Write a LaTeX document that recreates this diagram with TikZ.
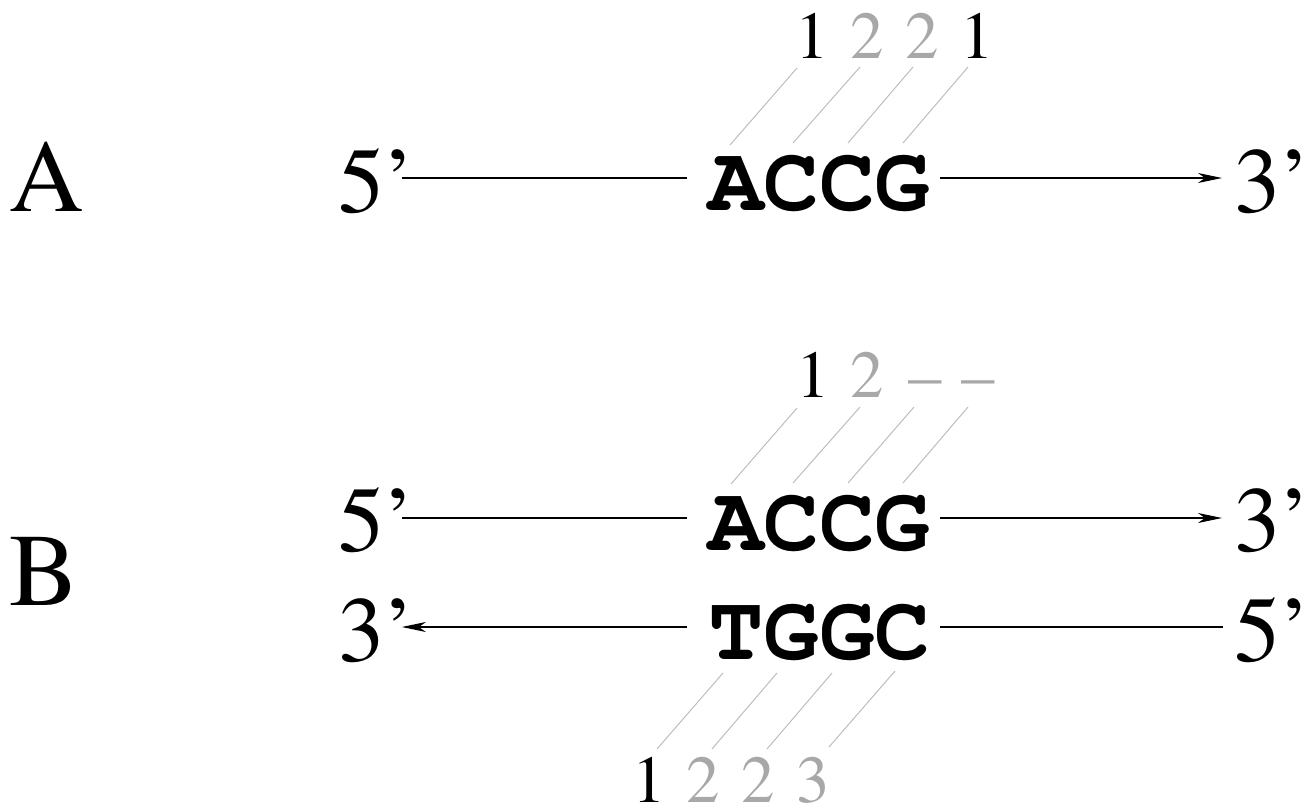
\documentclass[tikz,border=0pt]{standalone}
\usepackage[T1]{fontenc}
\renewcommand{\rmdefault}{ptm}
\renewcommand{\ttdefault}{pcr}
\usetikzlibrary{arrows.meta}
\definecolor{digitgray}{gray}{0.66}
\definecolor{tickgray}{gray}{0.74}
\begin{document}
\begin{tikzpicture}[x=1pt,y=-1pt,
  txt/.style={inner sep=0pt, anchor=base west},
  panel/.style={txt, font=\fontsize{103}{103}\selectfont\rmfamily},
  endlab/.style={txt, font=\fontsize{93}{93}\selectfont\rmfamily},
  seq/.style={txt, font=\fontsize{92.5}{92.5}\selectfont\ttfamily\bfseries},
  dig/.style={inner sep=0pt, anchor=base, font=\fontsize{67}{67}\selectfont\rmfamily},
  dimdig/.style={dig, text=digitgray},
  strand/.style={line width=1.3pt},
  arr/.style={strand, -{Stealth[length=24pt,width=10pt,inset=7pt]}},
  tick/.style={tickgray, line width=1pt}]
\useasboundingbox (0,0) rectangle (1302,803);

% panel labels
\node[panel] (PA) at (9,211) {A};
\node[panel] (PB) at (9,605) {B};

% row A
\coordinate (LA) at (0,178);
\node[endlab] (A5) at (338,212) {5'};
\node[seq] (Aseq) at (708,210) {ACCG};
\node[endlab] (A3) at (1234,212) {3'};
\draw[strand, shorten <=-14pt, shorten >=21pt] (A5.east |- LA) -- (Aseq.west |- LA);
\draw[arr, shorten <=10pt, shorten >=12pt] (Aseq.east |- LA) -- (A3.west |- LA);

\node[dig] (a1) at (812,58) {1};
\node[dimdig] (a2) at (867,58) {2};
\node[dimdig] (a3) at (922,58) {2};
\node[dig] (a4) at (977,58) {1};
\draw[tick] (730,145) -- (797,68);
\draw[tick] (793,143) -- (860,67);
\draw[tick] (848,143) -- (913,67);
\draw[tick] (903,143) -- (968,67);

% row B, upper strand
\coordinate (LB1) at (0,518);
\node[endlab] (B5a) at (338,551) {5'};
\node[seq] (Bseq1) at (708,550) {ACCG};
\node[endlab] (B3a) at (1234,551) {3'};
\draw[strand, shorten <=-14pt, shorten >=21pt] (B5a.east |- LB1) -- (Bseq1.west |- LB1);
\draw[arr, shorten <=10pt, shorten >=12pt] (Bseq1.east |- LB1) -- (B3a.west |- LB1);

\node[dig] (b1) at (813,397) {1};
\node[dimdig] (b2) at (867,397) {2};
\node[dimdig] (b3) at (925,397) {--};
\node[dimdig] (b4) at (978,397) {--};
\draw[tick] (731,484) -- (797,408);
\draw[tick] (793,483) -- (860,407);
\draw[tick] (848,483) -- (914,407);
\draw[tick] (903,483) -- (968,407);

% row B, lower strand
\coordinate (LB2) at (0,627);
\node[endlab] (B3b) at (338,661) {3'};
\node[seq] (Bseq2) at (708,659) {TGGC};
\node[endlab] (B5b) at (1234,661) {5'};
\draw[arr, shorten <=21pt, shorten >=-14pt] (Bseq2.west |- LB2) -- (B3b.east |- LB2);
\draw[strand, shorten <=10pt, shorten >=11pt] (Bseq2.east |- LB2) -- (B5b.west |- LB2);

\node[dig] (c1) at (649,802) {1};
\node[dimdig] (c2) at (703,802) {2};
\node[dimdig] (c3) at (758,802) {2};
\node[dimdig] (c4) at (813,802) {3};
\draw[tick] (723,673) -- (657,749);
\draw[tick] (777,673) -- (712,749);
\draw[tick] (832,673) -- (767,749);
\draw[tick] (895,671) -- (829,747);
\end{tikzpicture}
\end{document}
